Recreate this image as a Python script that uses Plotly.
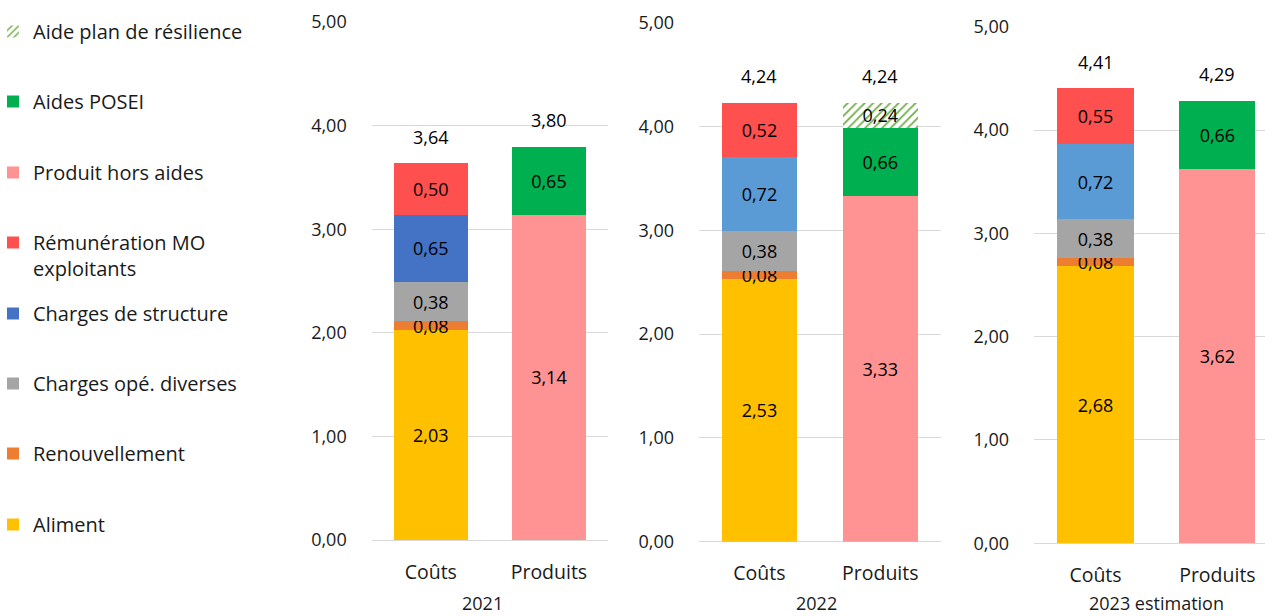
import plotly.graph_objects as go

# ---------------- data ----------------
years = ["2021", "2022", "2023 estimation"]
categories = ["Coûts", "Produits"]

aliment = [2.03, 2.53, 2.68]
renouvellement = [0.08, 0.08, 0.08]
charges_ope = [0.38, 0.38, 0.38]
charges_structure = [0.65, 0.72, 0.72]
remuneration = [0.50, 0.52, 0.55]
produit_hors_aides = [3.14, 3.33, 3.62]
aides_posei = [0.65, 0.66, 0.66]
aide_resilience = [None, 0.24, None]
total_couts = [3.64, 4.24, 4.41]
total_produits = [3.80, 4.24, 4.29]

# ---------------- styles ----------------
FONT = "Open Sans"
FS_NUM = 18
FS_CAT = 19.5
FS_LEG = 20
TXT = "#1a1a1a"
W, H = 1265, 616

# series: name, values, category, colors per year, legend id
series = [
    ("Aliment", aliment, "Coûts", ["#FFC000"] * 3, "legend8"),
    ("Renouvellement", renouvellement, "Coûts", ["#ED7D31"] * 3, "legend7"),
    ("Charges opé. diverses", charges_ope, "Coûts", ["#A5A5A5"] * 3, "legend6"),
    ("Charges de structure", charges_structure, "Coûts", ["#4472C4", "#5B9BD5", "#5B9BD5"], "legend5"),
    ("Rémunération MO<br>exploitants", remuneration, "Coûts", ["#FF5050"] * 3, "legend4"),
    ("Produit hors aides", produit_hors_aides, "Produits", ["#FF9393"] * 3, "legend3"),
    ("Aides POSEI", aides_posei, "Produits", ["#00B050"] * 3, "legend2"),
    ("Aide plan de résilience", aide_resilience, "Produits", ["#70AD47"] * 3, "legend"),
]

# axis geometry (pixels)
x_px = [(371.7, 608.0), (699.0, 940.7), (1034.0, 1265.0)]
y_px = [(22.0, 540.0), (22.7, 541.7), (26.7, 543.3)]
x_ranges = [[-0.5, 1.5], [-0.5, 1.5], [-0.5045, 1.3905]]
year_label_x = [482.5, 816.7, 1156.7]

fig = go.Figure()
shown = set()
for i in range(3):
    xa = "x" if i == 0 else f"x{i+1}"
    ya = "y" if i == 0 else f"y{i+1}"
    for name, vals, cat, colors, leg in series:
        v = vals[i]
        if v is None:
            continue
        if name == "Aide plan de résilience":
            marker = dict(color="white", line=dict(width=0),
                          pattern=dict(shape="/", fillmode="replace", fgcolor=colors[i],
                                       bgcolor="white", size=6, solidity=0.3))
        else:
            marker = dict(color=colors[i], line=dict(width=0))
        fig.add_trace(go.Bar(
            x=[cat], y=[v], name=name, marker=marker,
            xaxis=xa, yaxis=ya,
            text=[v], texttemplate="%{y:.2f}", textposition="inside",
            insidetextanchor="middle", constraintext="none", textangle=0,
            insidetextfont=dict(color="black", size=FS_NUM, family=FONT),
            showlegend=name not in shown, legend=leg, hoverinfo="skip",
        ))
        shown.add(name)
    # totals
    for cat, tot in zip(categories, [total_couts[i], total_produits[i]]):
        fig.add_annotation(x=cat, y=tot, xref=xa, yref=ya, text=f"{tot:.2f}".replace(".", ","),
                           showarrow=False, yanchor="bottom", yshift=12,
                           font=dict(size=FS_NUM, color="black", family=FONT))
    # year labels
    fig.add_annotation(x=year_label_x[i] / W, y=0,
                       xref="paper", yref="paper", text=years[i], showarrow=False,
                       xanchor="center", yanchor="bottom", borderpad=0,
                       font=dict(size=FS_NUM, color=TXT, family=FONT))

layout = dict(
    width=W, height=H, margin=dict(l=0, r=0, t=0, b=0, autoexpand=False),
    paper_bgcolor="white", plot_bgcolor="white",
    barmode="stack", bargap=0.375, separators=", ",
    font=dict(family=FONT, size=FS_NUM, color=TXT),
)
for i in range(3):
    xk = "xaxis" if i == 0 else f"xaxis{i+1}"
    yk = "yaxis" if i == 0 else f"yaxis{i+1}"
    xa = "x" if i == 0 else f"x{i+1}"
    ya = "y" if i == 0 else f"y{i+1}"
    layout[xk] = dict(domain=[x_px[i][0] / W, x_px[i][1] / W], anchor=ya,
                      type="category", categoryorder="array", categoryarray=categories,
                      range=x_ranges[i], showgrid=False, showline=False, zeroline=False,
                      ticks="", ticklabelstandoff=18, automargin=False,
                      tickfont=dict(size=FS_CAT, color=TXT))
    layout[yk] = dict(domain=[1 - y_px[i][1] / H, 1 - y_px[i][0] / H], anchor=xa,
                      range=[0, 5], dtick=1, tick0=0, tickformat=".2f",
                      showgrid=True, gridcolor="#D9D9D9", gridwidth=1.3,
                      zeroline=True, zerolinecolor="#D9D9D9", zerolinewidth=1.3,
                      showline=False, ticks="", ticklabelstandoff=24, automargin=False,
                      tickfont=dict(size=FS_NUM, color=TXT))

legend_centers = {"legend": 32, "legend2": 102, "legend3": 173, "legend4": 243,
                  "legend5": 314, "legend6": 384, "legend7": 454, "legend8": 525}
for key, yc in legend_centers.items():
    layout[key] = dict(x=-7 / W, xanchor="left", y=1 - (yc - 20) / H, yanchor="top",
                       bgcolor="rgba(0,0,0,0)", borderwidth=0, valign="top",
                       font=dict(size=FS_LEG, color=TXT, family=FONT))

fig.update_layout(**layout)
fig.write_html("out.html")
